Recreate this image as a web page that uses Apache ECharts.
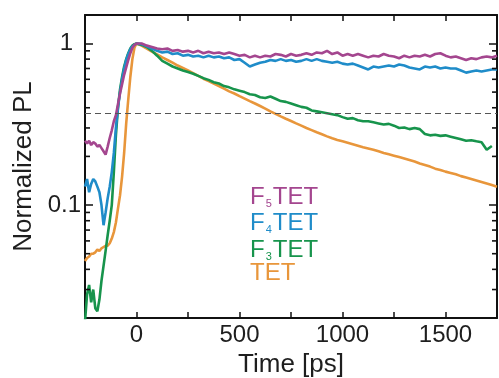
<!DOCTYPE html>
<html><head><meta charset="utf-8">
<script src="https://cdn.jsdelivr.net/npm/echarts@6/dist/echarts.min.js"></script>
<style>html,body{margin:0;padding:0;background:#fff}#c{width:499px;height:378px}</style>
</head><body><div id="c"></div>
<script>
// ---- data (time in ps, normalized PL) ----
const time = [-250,-240,-230,-220,-210,-200,-190,-180,-170,-160,-150,-140,-130,-120,-110,-100,-90,-80,-70,-60,-50,-40,-30,-20,-10,0,
  25,50,75,100,125,150,175,200,225,250,275,300,325,350,375,400,425,450,475,500,525,550,575,600,625,650,675,700,725,750,
  775,800,825,850,875,900,925,950,975,1000,1025,1050,1075,1100,1125,1150,1175,1200,1225,1250,1275,1300,1325,1350,1375,1400,
  1425,1450,1475,1500,1525,1550,1575,1600,1625,1650,1675,1700,1725,1750];

const f5tet = [0.25,0.24,0.25,0.235,0.245,0.24,0.23,0.235,0.225,0.215,0.205,0.23,0.26,0.29,0.33,0.36,0.42,0.49,0.56,0.64,0.71,0.79,0.87,0.94,0.98,1.0,
  1.0,0.97,0.95,0.93,0.92,0.93,0.9,0.91,0.89,0.9,
  0.88,0.9,0.87,0.89,0.87,0.88,0.86,0.88,0.86,0.84,
  0.85,0.82,0.84,0.82,0.84,0.83,0.86,0.85,0.83,0.86,
  0.84,0.85,0.87,0.85,0.88,0.87,0.9,0.86,0.88,0.84,
  0.86,0.84,0.86,0.84,0.82,0.84,0.83,0.86,0.84,0.83,
  0.81,0.84,0.82,0.84,0.83,0.85,0.83,0.86,0.87,0.84,
  0.82,0.83,0.81,0.79,0.81,0.8,0.82,0.83,0.82,0.84];

const f4tet = [0.13,0.145,0.12,0.135,0.145,0.14,0.13,0.12,0.1,0.075,0.09,0.11,0.13,0.16,0.21,0.3,0.4,0.5,0.6,0.7,0.79,0.86,0.92,0.96,0.98,1.0,
  0.99,0.96,0.93,0.9,0.88,0.89,0.86,0.87,0.84,0.85,
  0.83,0.84,0.82,0.84,0.82,0.83,0.81,0.82,0.79,0.8,
  0.76,0.72,0.74,0.76,0.77,0.79,0.78,0.8,0.78,0.79,
  0.77,0.78,0.8,0.78,0.8,0.78,0.77,0.76,0.77,0.75,
  0.74,0.75,0.73,0.71,0.69,0.72,0.71,0.72,0.73,0.72,
  0.74,0.73,0.71,0.7,0.69,0.72,0.71,0.72,0.7,0.71,
  0.7,0.7,0.68,0.66,0.67,0.68,0.67,0.68,0.69,0.69];

const f3tet = [0.019,0.028,0.032,0.025,0.03,0.023,0.022,0.026,0.034,0.042,0.052,0.065,0.08,0.1,0.16,0.27,0.4,0.52,0.62,0.72,0.8,0.87,0.93,0.97,0.99,1.0,
  0.98,0.95,0.9,0.84,0.78,0.75,0.72,0.70,0.68,0.665,
  0.65,0.63,0.61,0.595,0.575,0.565,0.545,0.535,0.52,0.51,
  0.5,0.485,0.48,0.465,0.46,0.47,0.455,0.44,0.435,0.425,
  0.415,0.405,0.4,0.385,0.38,0.375,0.37,0.365,0.36,0.35,
  0.342,0.345,0.335,0.33,0.33,0.325,0.32,0.315,0.318,0.31,
  0.3,0.302,0.295,0.3,0.295,0.275,0.27,0.272,0.268,0.27,
  0.265,0.26,0.255,0.25,0.252,0.248,0.245,0.22,0.232,null];

const tet = [0.045,0.047,0.048,0.05,0.05,0.051,0.053,0.052,0.054,0.055,0.056,0.056,0.058,0.062,0.068,0.078,0.095,0.115,0.15,0.21,0.32,0.45,0.62,0.8,0.94,1.0,
  0.97,0.93,0.89,0.855,0.82,0.79,0.76,0.73,0.705,0.68,
  0.655,0.63,0.605,0.585,0.565,0.545,0.525,0.505,0.49,0.472,
  0.456,0.44,0.425,0.41,0.395,0.38,0.367,0.354,0.342,0.331,
  0.32,0.31,0.3,0.291,0.282,0.274,0.266,0.259,0.253,0.248,
  0.243,0.238,0.233,0.228,0.224,0.22,0.215,0.21,0.206,0.202,
  0.198,0.194,0.19,0.186,0.181,0.177,0.173,0.168,0.165,0.161,
  0.158,0.155,0.151,0.148,0.145,0.142,0.139,0.136,0.133,0.13];

const seriesNames = ['F5TET','F4TET','F3TET','TET'];
const xTickLabels = [0, 500, 1000, 1500];
const yTickLabels = [0.1, 1];
const yMinorTicks = [0.03,0.04,0.05,0.06,0.07,0.08,0.09,0.2,0.3,0.4,0.5,0.6,0.7,0.8,0.9];
const refLevel = 1 / Math.E;

// ---- styling ----
const X_MIN = -250, X_MAX = 1750, Y_MIN = 0.02, Y_MAX = 1.5;
const FONT = "'Liberation Sans', Arial, sans-serif";
const TXT = '#1e1e1e';
const AX = '#111';
const colors = {F5TET:'#A4468F', F4TET:'#1F8CC9', F3TET:'#17944C', TET:'#E8963B'};
const legendTops = {F5TET:180, F4TET:206, F3TET:233, TET:261};
const subs = {F5TET:'5', F4TET:'4', F3TET:'3'};

const pairs = arr => time.map((t, i) => [t, arr[i]]);
const seriesData = {F5TET: f5tet, F4TET: f4tet, F3TET: f3tet, TET: tet};

function lineSeries(name, extra) {
  return Object.assign({
    name, type: 'line', data: pairs(seriesData[name]), showSymbol: false, symbol: 'none',
    lineStyle: {color: colors[name], width: 2.6}, itemStyle: {color: colors[name]},
    connectNulls: false, clip: true, silent: true
  }, extra || {});
}

// minor ticks of the log axis, drawn as short marks through the axis scale
function minorTickSeries(xEdge, dir) {
  return {
    type: 'scatter', xAxisIndex: 0, yAxisIndex: 0, silent: true, clip: false, z: 6,
    data: yMinorTicks.map(v => [xEdge, v]),
    symbol: 'rect', symbolSize: [5, 1.6], symbolOffset: [dir * 2.5, 0],
    itemStyle: {color: AX, opacity: 1}
  };
}

const legends = seriesNames.map(name => {
  const c = colors[name];
  return {
    left: 245, top: legendTops[name], orient: 'vertical', icon: 'none',
    itemWidth: 0, itemHeight: 10, itemGap: 0, padding: 0, selectedMode: false,
    data: [name],
    formatter: n => subs[n] ? '{a|F}{b|' + subs[n] + '}{a|TET}' : '{a|TET}',
    textStyle: {
      color: c, fontFamily: FONT,
      rich: {
        a: {fontSize: 24, lineHeight: 24, color: c, fontFamily: FONT, verticalAlign: 'top'},
        b: {fontSize: 11, lineHeight: 11, color: c, fontFamily: FONT, padding: [18, 1, 0, 1], verticalAlign: 'bottom'}
      }
    }
  };
});

const axisLine = {show: true, onZero: false, lineStyle: {color: AX, width: 2}};
const axisTick = {show: true, inside: true, length: 6, lineStyle: {color: AX, width: 1.5}};

const option = {
  animation: false,
  backgroundColor: '#fff',
  grid: {left: 85, right: 2, top: 15, bottom: 60, outerBoundsMode: 'none'},
  legend: legends,
  xAxis: [{
    type: 'value', position: 'bottom', min: X_MIN, max: X_MAX, interval: 250,
    axisLine, axisTick, splitLine: {show: false},
    axisLabel: {
      margin: 5, fontSize: 24, lineHeight: 24, color: TXT, fontFamily: FONT,
      showMinLabel: false, showMaxLabel: false,
      formatter: v => xTickLabels.includes(v) ? String(v) : ''
    },
    name: 'Time [ps]', nameLocation: 'middle', nameGap: 29,
    nameTextStyle: {fontSize: 26, lineHeight: 26, color: TXT, fontFamily: FONT}
  }, {
    type: 'value', position: 'top', min: X_MIN, max: X_MAX, interval: 250,
    axisLine, axisTick, splitLine: {show: false}, axisLabel: {show: false}
  }],
  yAxis: [{
    type: 'log', logBase: 10, position: 'left', min: Y_MIN, max: Y_MAX,
    axisLine, axisTick: Object.assign({}, axisTick, {length: 8}), splitLine: {show: false}, minorTick: {show: false},
    axisLabel: {
      margin: 4, fontSize: 24, lineHeight: 24, color: TXT, fontFamily: FONT,
      showMinLabel: false, showMaxLabel: false,
      formatter: v => {
        const hit = yTickLabels.find(t => Math.abs(t - v) / t < 1e-6);
        if (hit === undefined) return '';
        return hit === 1 ? '{one|1}' : String(hit);
      },
      rich: {one: {fontSize: 24, lineHeight: 24, color: TXT, fontFamily: FONT, padding: [0, 8, 0, 0]}}
    },
    name: 'Normalized PL', nameLocation: 'middle', nameGap: 38,
    nameTextStyle: {fontSize: 26, lineHeight: 26, color: TXT, fontFamily: FONT}
  }, {
    type: 'log', logBase: 10, position: 'right', min: Y_MIN, max: Y_MAX,
    axisLine, axisTick: Object.assign({}, axisTick, {length: 8}), splitLine: {show: false}, axisLabel: {show: false}
  }],
  series: [
    lineSeries('TET', {
      markLine: {
        silent: true, symbol: ['none', 'none'], label: {show: false},
        lineStyle: {color: '#555', width: 1.2, type: [6, 4]},
        data: [{yAxis: refLevel}]
      }
    }),
    lineSeries('F3TET'),
    lineSeries('F4TET'),
    lineSeries('F5TET'),
    minorTickSeries(X_MIN, 1),
    minorTickSeries(X_MAX, -1)
  ]
};

const chart = echarts.init(document.getElementById('c'), null, {renderer: 'canvas'});
chart.setOption(option);
</script>
</body></html>
